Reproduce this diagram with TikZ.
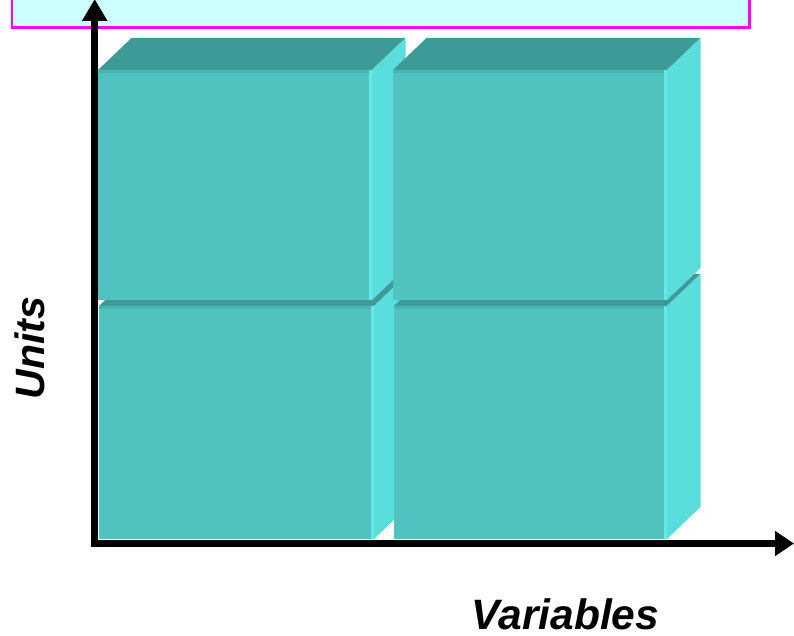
\documentclass[tikz,border=0pt]{standalone}
\usepackage{fontspec}
\setmainfont{Liberation Sans}
\usetikzlibrary{arrows.meta}
\definecolor{barfill}{HTML}{CCFFFF}
\definecolor{barline}{HTML}{FF00FF}
\definecolor{topc}{HTML}{3D9A96}
\definecolor{frontc}{HTML}{50C3C1}
\definecolor{frontedge}{HTML}{49B6B3}
\definecolor{sidec}{HTML}{5ADEDD}
\definecolor{bevelc}{HTML}{64E9E8}
\newcommand{\drawcube}[4]{%
  \fill[topc] (#1,#2) -- ++(#3,0) -- ++(33.5,-32) -- ++(-#3,0) -- cycle;
  \fill[sidec] (#1+#3,#2) -- ++(33.5,-32) -- ++(0,#4) -- ++(-33.5,32) -- cycle;
  \fill[frontc] (#1,#2) rectangle ++(#3,#4);
  \fill[frontedge] (#1,#2) rectangle ++(#3,3);
  \fill[bevelc] (#1+#3-3,#2) rectangle ++(3,#4);
}
\tikzset{
  axis/.style={line width=7pt, line join=miter,
    {Triangle[length=22pt,width=24pt]}-{Triangle[length=19pt,width=24pt]}},
  axlabel/.style={font=\fontsize{41}{48}\selectfont\bfseries\itshape, inner sep=0pt}
}
\begin{document}
\begin{tikzpicture}[x=1pt,y=-1pt]
\useasboundingbox (0,0) rectangle (794,636);
\clip (0,0) rectangle (794,636);
% top bar
\draw[fill=barfill, draw=barline, line width=2.5pt] (12,-10) rectangle (749.5,27.5);
% cubes: lower row first, then upper row
\drawcube{99}{306}{275}{233}
\drawcube{394}{306}{273}{233}
\drawcube{98}{70}{274}{230}
\drawcube{393}{70}{274}{230}
% axes
\coordinate (ytip) at (94.7,-1);
\coordinate (orig) at (94.7,543.5);
\coordinate (xtip) at (794,543.5);
\draw[axis] (ytip) -- (orig) -- (xtip);
% labels
\node[axlabel, rotate=90] (units) at (30,348) {Units};
\node[axlabel, font=\fontsize{42.5}{48}\selectfont\bfseries\itshape, anchor=base] (vars) at (565.5,629) {Variables};
\end{tikzpicture}
\end{document}
